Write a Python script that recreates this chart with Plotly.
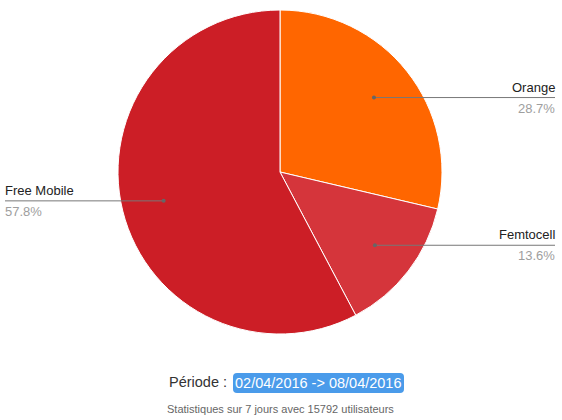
import math
import plotly.graph_objects as go

labels = ["Orange", "Femtocell", "Free Mobile"]
values = [28.7, 13.6, 57.8]
colors = ["#FF6600", "#D5353B", "#CC1E26"]
periode_label = "Période :"
periode_value = "02/04/2016 -> 08/04/2016"
footer = "Statistiques sur 7 jours avec 15792 utilisateurs"

W, H = 562, 420
cx, cy, R = 280, 172, 162

def px(x):
    return x / W

def py(y):
    return 1 - y / H

fig = go.Figure()
fig.add_trace(go.Pie(
    labels=labels, values=values, sort=False, direction="clockwise", rotation=0,
    marker=dict(colors=colors, line=dict(color="white", width=1)),
    textinfo="none", hoverinfo="label+percent", showlegend=False,
    domain=dict(x=[px(cx - R), px(cx + R)], y=[py(cy + R), py(cy - R)]),
))

shapes = []
annotations = []
total = sum(values)
acc = 0.0
for lab, v in zip(labels, values):
    mid = (acc + v / 2) / total * 2 * math.pi
    acc += v
    dx = math.sin(mid) * R * 0.74
    dy = -math.cos(mid) * R * 0.74
    dotx, doty = cx + dx, cy + dy
    pct = f"{v:.1f}%"
    if dx >= 0:
        x0, x1 = dotx, 555
        tx, anchor = 557, "right"
    else:
        x0, x1 = 5, dotx
        tx, anchor = 3, "left"
    shapes.append(dict(type="line", xref="paper", yref="paper",
                       x0=px(x0), x1=px(x1), y0=py(doty), y1=py(doty),
                       line=dict(color="#777777", width=1)))
    shapes.append(dict(type="circle", xref="paper", yref="paper",
                       x0=px(dotx - 2), x1=px(dotx + 2), y0=py(doty + 2), y1=py(doty - 2),
                       fillcolor="#666666", line=dict(width=0)))
    annotations.append(dict(x=px(tx), y=py(doty - 1), xref="paper", yref="paper",
                            text=lab, showarrow=False, xanchor=anchor, yanchor="bottom",
                            font=dict(size=13, color="#222222")))
    annotations.append(dict(x=px(tx), y=py(doty + 1), xref="paper", yref="paper",
                            text=pct, showarrow=False, xanchor=anchor, yanchor="top",
                            font=dict(size=13, color="#9E9E9E")))

# Période box (rounded)
bx0, bx1, by0, by1, r = 233, 404, 373, 393, 4
path = (f"M {px(bx0 + r)},{py(by0)} L {px(bx1 - r)},{py(by0)} "
        f"Q {px(bx1)},{py(by0)} {px(bx1)},{py(by0 + r)} "
        f"L {px(bx1)},{py(by1 - r)} Q {px(bx1)},{py(by1)} {px(bx1 - r)},{py(by1)} "
        f"L {px(bx0 + r)},{py(by1)} Q {px(bx0)},{py(by1)} {px(bx0)},{py(by1 - r)} "
        f"L {px(bx0)},{py(by0 + r)} Q {px(bx0)},{py(by0)} {px(bx0 + r)},{py(by0)} Z")
shapes.append(dict(type="path", xref="paper", yref="paper", path=path,
                   fillcolor="#4A9BEA", line=dict(width=0)))
annotations.append(dict(x=px(229), y=py(382), xref="paper", yref="paper",
                        text=periode_label, showarrow=False, xanchor="right", yanchor="middle",
                        font=dict(size=14.5, color="#333333")))
annotations.append(dict(x=px((bx0 + bx1) / 2), y=py(383), xref="paper", yref="paper",
                        text=periode_value, showarrow=False, xanchor="center", yanchor="middle",
                        font=dict(size=14.5, color="white")))
annotations.append(dict(x=px(280), y=py(409), xref="paper", yref="paper",
                        text=footer, showarrow=False, xanchor="center", yanchor="middle",
                        font=dict(size=11, color="#666666")))

fig.update_layout(
    width=W, height=H, margin=dict(l=0, r=0, t=0, b=0),
    paper_bgcolor="white", plot_bgcolor="white",
    font=dict(family="Liberation Sans, Arial, sans-serif"),
    shapes=shapes, annotations=annotations,
)
fig.write_html("out.html", config={"displayModeBar": False},
               post_script="document.body.style.margin='0';document.body.style.overflow='hidden';")
